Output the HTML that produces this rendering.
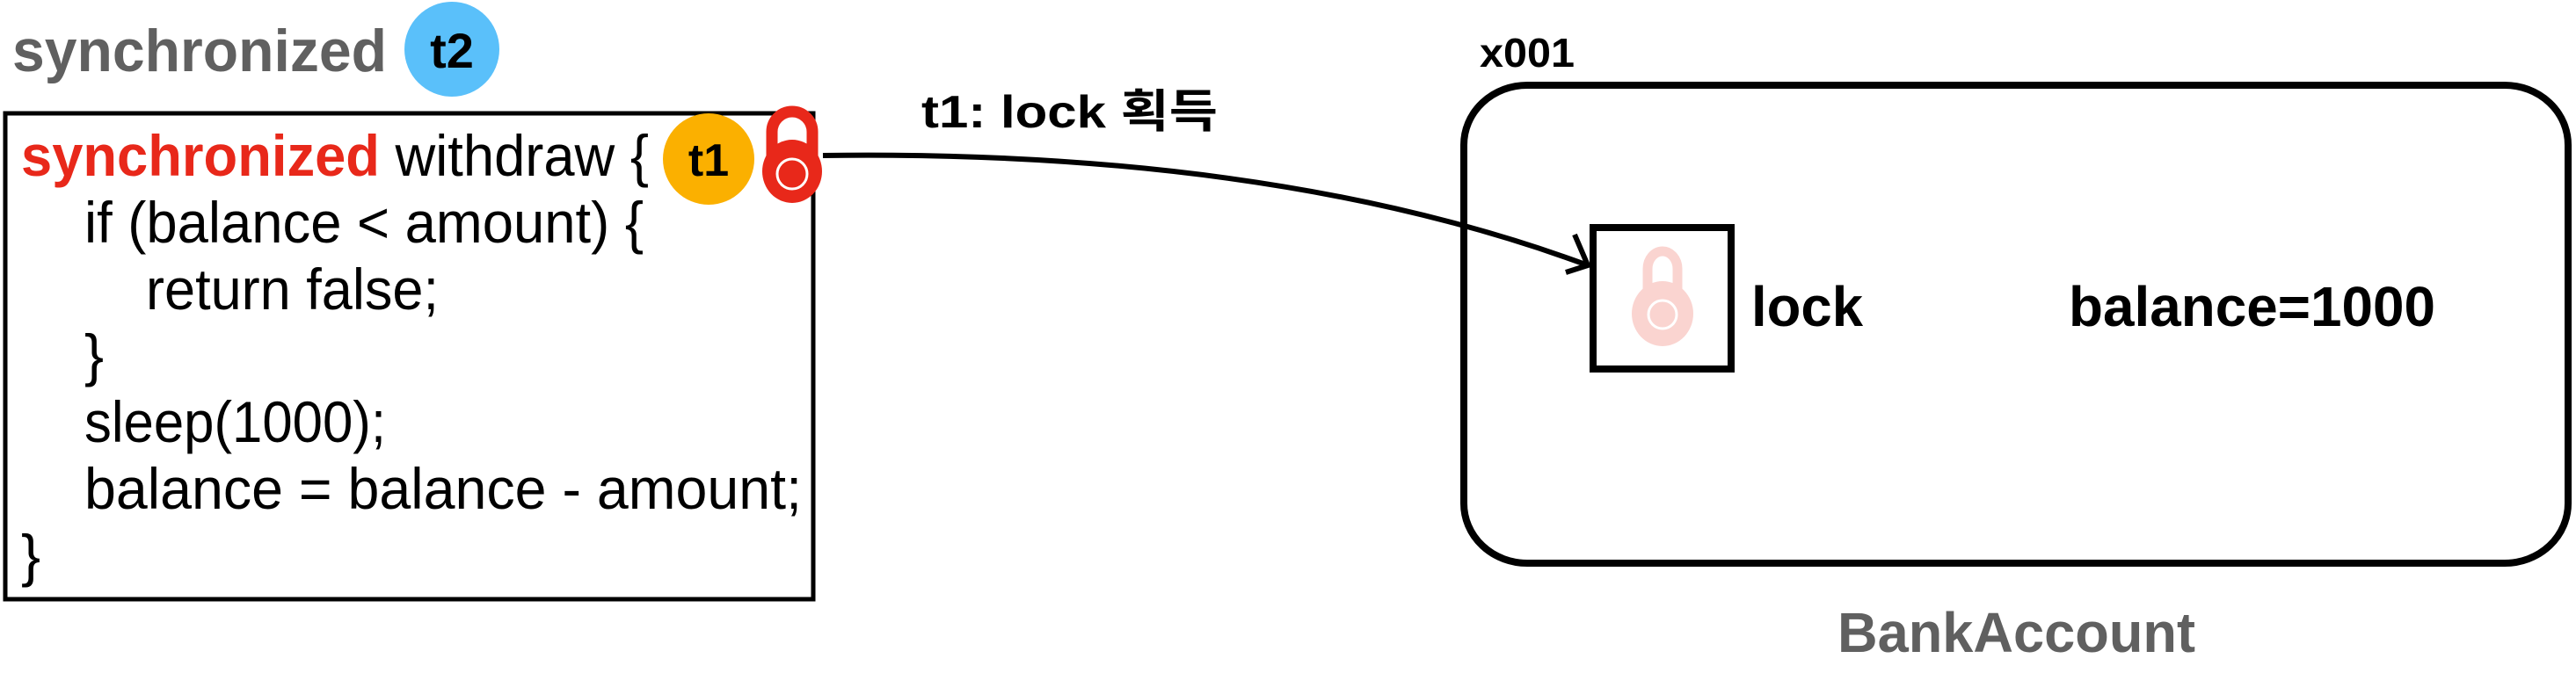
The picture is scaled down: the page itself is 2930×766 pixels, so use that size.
<!DOCTYPE html>
<html><head><meta charset="utf-8"><style>
html,body{margin:0;padding:0;background:#fff;}
svg{display:block;}
text{font-family:"Liberation Sans","Noto Sans CJK KR",sans-serif;}
</style></head><body>
<svg width="2930" height="766" viewBox="0 0 2930 766" xmlns="http://www.w3.org/2000/svg">
<text x="14" y="81" font-size="68" font-weight="bold" fill="#606060" textLength="426" lengthAdjust="spacingAndGlyphs">synchronized</text>
<circle cx="514" cy="56" r="54" fill="#5AC0FA"/>
<text x="514" y="77" font-size="56" font-weight="bold" text-anchor="middle" fill="#000">t2</text>

<rect x="6" y="129" width="919" height="553" fill="#fff" stroke="#000" stroke-width="5"/>
<g font-size="66" fill="#000">
<text x="24" y="200" textLength="714" lengthAdjust="spacingAndGlyphs"><tspan font-weight="bold" fill="#E8281A">synchronized</tspan> withdraw {</text>
<text x="96" y="276" textLength="636" lengthAdjust="spacingAndGlyphs">if (balance &lt; amount) {</text>
<text x="166" y="352" textLength="333" lengthAdjust="spacingAndGlyphs">return false;</text>
<text x="96" y="427">}</text>
<text x="96" y="503" textLength="343" lengthAdjust="spacingAndGlyphs">sleep(1000);</text>
<text x="96" y="579" textLength="816" lengthAdjust="spacingAndGlyphs">balance = balance - amount;</text>
<text x="24" y="655">}</text>
</g>
<circle cx="806" cy="181" r="52" fill="#FBB000"/>
<text x="806" y="200" font-size="52" font-weight="bold" text-anchor="middle" fill="#000">t1</text>

<!-- red lock -->
<path d="M878 180 V150 A23 23 0 0 1 924 150 V180" fill="none" stroke="#E8281A" stroke-width="13"/>
<ellipse cx="901" cy="195" rx="34" ry="36" fill="#E8281A"/>
<circle cx="901" cy="198" r="17" fill="none" stroke="#fff" stroke-width="3"/>

<path d="M936 177 Q1450 170 1806 302" fill="none" stroke="#000" stroke-width="6"/>
<path d="M1791 267 L1806 302 L1781 310" fill="none" stroke="#000" stroke-width="6"/>
<text x="1048" y="145" font-size="52" font-weight="bold" fill="#000" textLength="337" lengthAdjust="spacingAndGlyphs">t1: lock 획득</text>

<text x="1683" y="76" font-size="46" font-weight="bold" fill="#000" textLength="108" lengthAdjust="spacingAndGlyphs">x001</text>
<rect x="1665" y="97" width="1256" height="544" rx="72" ry="68" fill="none" stroke="#000" stroke-width="8"/>
<rect x="1812" y="259" width="157" height="161" fill="#fff" stroke="#000" stroke-width="8"/>
<path d="M1874 330 V306 A17 20 0 0 1 1908 306 V330" fill="none" stroke="#FAD4D0" stroke-width="11"/>
<ellipse cx="1891" cy="357" rx="35" ry="37" fill="#FAD4D0"/>
<circle cx="1891" cy="358" r="16" fill="none" stroke="#fff" stroke-width="3"/>
<text x="1992" y="371" font-size="64" font-weight="bold" fill="#000" textLength="127" lengthAdjust="spacingAndGlyphs">lock</text>
<text x="2353" y="371" font-size="64" font-weight="bold" fill="#000" textLength="417" lengthAdjust="spacingAndGlyphs">balance=1000</text>
<text x="2090" y="742" font-size="64" font-weight="bold" fill="#606060" textLength="407" lengthAdjust="spacingAndGlyphs">BankAccount</text>
</svg>
</body></html>
